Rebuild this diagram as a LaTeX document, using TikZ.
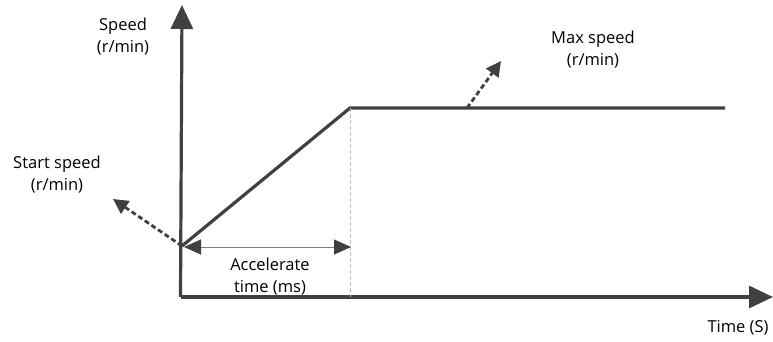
\documentclass[tikz,border=0pt]{standalone}
\usepackage{fontspec}
\setmainfont{Open Sans}
\usetikzlibrary{arrows.meta}
\definecolor{ink}{HTML}{404040}
\definecolor{guide}{HTML}{BDBDBD}
\tikzset{
  axis/.style={draw=ink, line width=3.2pt, -{Triangle[length=24pt,width=22pt]}},
  curve/.style={draw=ink, line width=3.2pt},
  pointer/.style={draw=ink, line width=2.8pt, dash pattern=on 5pt off 3pt,
    -{Triangle[length=15pt,width=15pt]}},
  span/.style={draw=gray, line width=1pt,
    {Triangle[length=17pt,width=15pt,color=ink]}-{Triangle[length=17pt,width=15pt,color=ink]}},
  label/.style={font=\fontsize{16.5}{22}\selectfont, text=black, align=center, inner sep=0pt}
}
\begin{document}
\begin{tikzpicture}[x=1pt, y=-1pt]
  \useasboundingbox (0,0) rectangle (773,342);
  % axes
  \coordinate (O) at (182,297);
  \coordinate (ytip) at (182,5);
  \coordinate (xtip) at (773,297);
  \draw[axis] (180.5,297) -- (ytip);
  \draw[axis] (180.5,297) -- (xtip);
  % speed profile
  \coordinate (s0) at (182,246);
  \coordinate (s1) at (350,108);
  \coordinate (s2) at (725,108);
  \coordinate (t1) at (350,297);
  \draw[curve] (s0) -- (s1) -- (s2);
  \draw[guide, line width=1pt, dash pattern=on 4pt off 2pt] (s1) -- (t1);
  % acceleration interval
  \coordinate (a0) at (184,247);
  \coordinate (a1) at (351,247);
  \draw[span] (a0) -- (a1);
  % pointers to labels
  \coordinate (sp) at (113,199);
  \coordinate (mp) at (501,61);
  \coordinate (mbase) at (467,108);
  \draw[pointer] (s0) -- (sp);
  \draw[pointer] (mbase) -- (mp);
  % labels
  \node[label] (speed) at (123,37) {Speed\\(r/min)};
  \node[label] (start) at (57,175) {Start speed\\(r/min)};
  \node[label] (max) at (593,50) {Max speed\\(r/min)};
  \node[label] (acc) at (270,277) {Accelerate\\time (ms)};
  \node[label] (time) at (738,328) {Time (S)};
\end{tikzpicture}
\end{document}
